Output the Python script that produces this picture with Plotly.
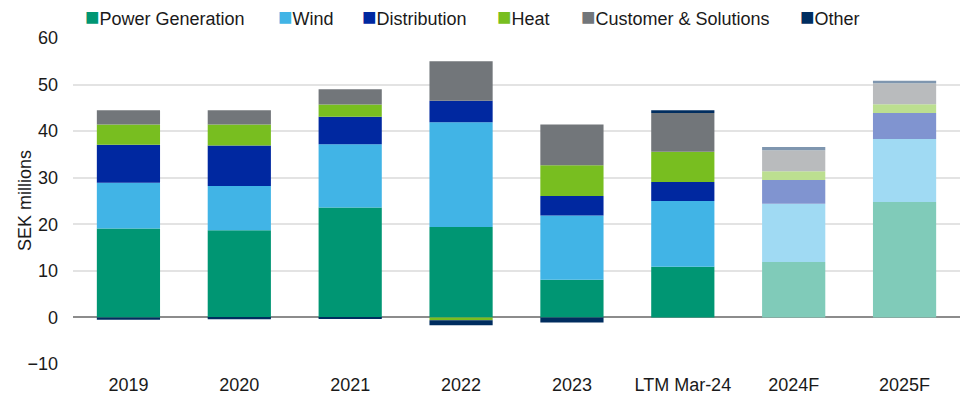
import plotly.graph_objects as go

categories = ["2019", "2020", "2021", "2022", "2023", "LTM Mar-24", "2024F", "2025F"]
power_generation = [19.1, 18.7, 23.6, 19.4, 8.1, 10.9, 11.9, 24.8]
wind = [9.8, 9.5, 13.6, 22.5, 13.8, 14.1, 12.5, 13.5]
distribution = [8.2, 8.7, 5.9, 4.6, 4.2, 4.1, 5.1, 5.6]
heat = [4.3, 4.5, 2.6, -0.6, 6.6, 6.5, 1.9, 1.9]
customer = [3.1, 3.1, 3.3, 8.5, 8.7, 8.3, 4.5, 4.5]
other = [-0.5, -0.4, -0.3, -1.1, -1.1, 0.6, 0.7, 0.5]
is_forecast = [False, False, False, False, False, False, True, True]

series = [
    ("Power Generation", power_generation, "#009673", "#80CBB9"),
    ("Wind", wind, "#41B4E6", "#A0DAF3"),
    ("Distribution", distribution, "#0028A0", "#8094D0"),
    ("Heat", heat, "#78BE20", "#BCDF90"),
    ("Customer & Solutions", customer, "#72767A", "#B9BBBD"),
    ("Other", other, "#002D5F", "#7F96AF"),
]
# legend entry left edges (pixels)
legend_x_px = [83, 276, 360, 495, 579, 798]

W, H = 961, 394
ML, MR, MT, MB = 73, 1, 38, 30
PW, PH = W - ML - MR, H - MT - MB

fig = go.Figure()
for name, vals, col, light in series:
    fig.add_trace(go.Bar(
        name=name, x=categories, y=vals, showlegend=False,
        marker=dict(color=[light if f else col for f in is_forecast], line=dict(width=0)),
    ))

for (name, vals, col, light), px in zip(series, legend_x_px):
    fig.add_annotation(
        xref="paper", yref="paper", x=(px - ML) / PW, y=1 + (MT - 17) / PH,
        xanchor="left", yanchor="middle", showarrow=False,
        text=f"<span style='color:{col};font-size:24px'>■</span>{name}",
        font=dict(size=18, color="#1a1a1a"),
    )

fig.add_annotation(
    xref="paper", yref="paper", x=(25 - ML) / PW, y=0.5,
    xanchor="center", yanchor="middle", showarrow=False, textangle=-90,
    text="SEK millions", font=dict(size=18, color="#1a1a1a"),
)

font = "Liberation Sans, Arial, sans-serif"
fig.update_layout(
    width=W, height=H,
    margin=dict(l=ML, r=MR, t=MT, b=MB),
    barmode="relative", bargap=0.43,
    plot_bgcolor="white", paper_bgcolor="white",
    font=dict(family=font, size=18, color="#1a1a1a"),
    showlegend=False,
    xaxis=dict(showgrid=False, ticks="", showline=False, tickfont=dict(size=18),
               ticklabelstandoff=8, automargin=False),
    yaxis=dict(range=[-10, 60], dtick=10, showgrid=True, gridcolor="#E3E3E3", gridwidth=1.5,
               zeroline=True, zerolinecolor="#8C8C8C", zerolinewidth=2, automargin=False,
               showline=False, ticks="", tickfont=dict(size=18), ticklabelstandoff=14),
)

fig.write_html("out.html")
